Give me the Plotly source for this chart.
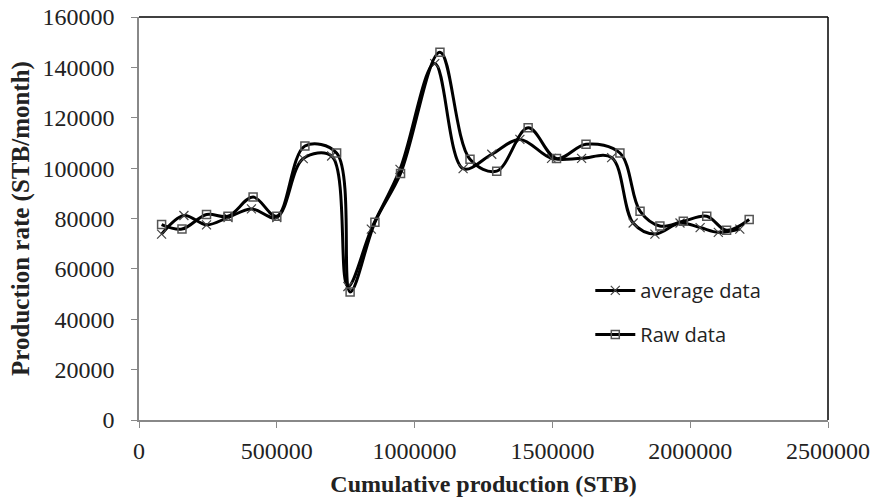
import plotly.graph_objects as go

# Data
raw_x = [82000, 156000, 245000, 323000, 414000, 500000, 602000, 717000, 766000, 856000,
         949000, 1092000, 1201000, 1298000, 1412000, 1515000, 1622000, 1745000, 1818000,
         1890000, 1975000, 2060000, 2132000, 2214000]
raw_y = [77600, 75800, 81600, 80900, 88500, 80900, 108800, 106000, 50800, 78500,
         97900, 146000, 103500, 98800, 116000, 103800, 109500, 106000, 82900,
         77000, 78900, 80900, 75300, 79600]

avg_x = [82000, 163000, 245000, 323000, 408000, 500000, 596000, 699000, 758000, 843000,
         947000, 1073000, 1176000, 1280000, 1382000, 1497000, 1606000, 1715000, 1793000,
         1872000, 1963000, 2036000, 2102000, 2180000]
avg_y = [73800, 81200, 77500, 80400, 83800, 80400, 103800, 104800, 53000, 75800,
         99500, 141500, 99800, 105500, 111400, 103900, 103900, 104200, 78200,
         73800, 78200, 76400, 74500, 75800]

x_ticks = [0, 500000, 1000000, 1500000, 2000000, 2500000]
y_ticks = [0, 20000, 40000, 60000, 80000, 100000, 120000, 140000, 160000]

fig = go.Figure()

fig.add_trace(go.Scatter(
    x=avg_x, y=avg_y, name="average data", mode="lines+markers",
    line=dict(color="black", width=3, shape="spline", smoothing=1.0),
    marker=dict(symbol="x-thin-open", size=9, color="#444444",
                line=dict(color="#444444", width=1.2)),
    legendgroup="a",
))
fig.add_trace(go.Scatter(
    x=raw_x, y=raw_y, name="Raw data", mode="lines+markers",
    line=dict(color="black", width=3, shape="spline", smoothing=1.0),
    marker=dict(symbol="square-open", size=8, color="#555555",
                line=dict(color="#555555", width=1.5)),
    legendgroup="b",
))

serif = "Liberation Serif"

fig.update_layout(
    width=878, height=504,
    margin=dict(l=139, r=50, t=17, b=84),
    paper_bgcolor="white", plot_bgcolor="white",
    showlegend=True,
    legend=dict(
        x=0.655, y=0.37, xanchor="left", yanchor="top",
        font=dict(family="Open Sans", size=20, color="#222222"),
        bgcolor="rgba(0,0,0,0)", traceorder="grouped", tracegroupgap=15,
        itemwidth=40,
    ),
    xaxis=dict(
        range=[0, 2500000], tickvals=x_ticks, ticktext=[str(v) for v in x_ticks],
        showgrid=False, zeroline=False, showline=True, linecolor="#888888", linewidth=1.5,
        ticks="outside", ticklen=6, tickcolor="#888888",
        tickfont=dict(family=serif, size=24, color="#222222"),
        ticklabelstandoff=2, automargin=False,
        title=dict(text="<b>Cumulative production (STB)</b>",
                   font=dict(family=serif, size=24, color="#222222"), standoff=13),
    ),
    yaxis=dict(
        range=[0, 160000], tickvals=y_ticks, ticktext=[str(v) for v in y_ticks],
        showgrid=False, zeroline=False, showline=True, linecolor="#888888", linewidth=1.5,
        ticks="outside", ticklen=6, tickcolor="#888888",
        tickfont=dict(family=serif, size=24, color="#222222"),
        ticklabelstandoff=12, automargin=False,
        title=dict(text="<b>Production rate (STB/month)</b>",
                   font=dict(family=serif, size=25, color="#222222"), standoff=6),
    ),
)

# frame top and right edges
fig.add_shape(type="line", xref="paper", yref="paper", x0=0, x1=1, y0=1, y1=1,
              line=dict(color="black", width=1.5))
fig.add_shape(type="line", xref="paper", yref="paper", x0=1, x1=1, y0=0, y1=1,
              line=dict(color="black", width=1.5))

fig.write_html("out.html")
